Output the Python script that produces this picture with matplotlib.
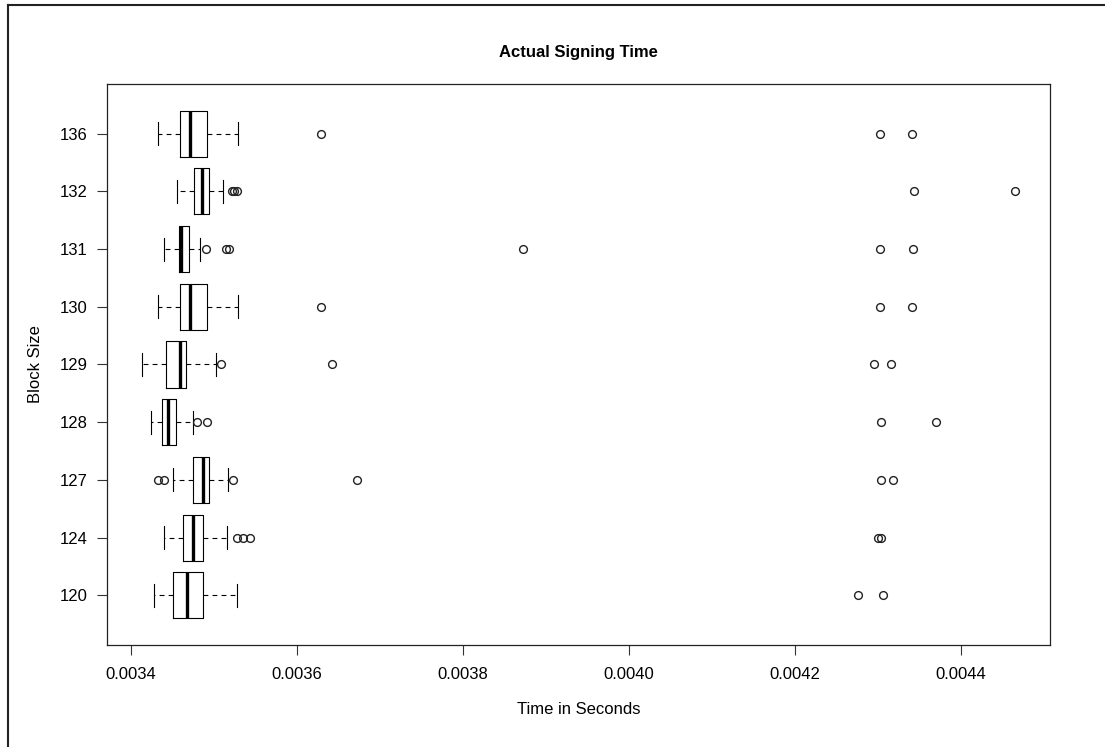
import matplotlib
matplotlib.use('Agg')
import matplotlib.pyplot as plt
from matplotlib.lines import Line2D

plt.rcParams['font.family'] = ['Liberation Sans', 'DejaVu Sans']
plt.rcParams['lines.scale_dashes'] = False

# ---- data (seconds) ----
categories = ["120", "124", "127", "128", "129", "130", "131", "132", "136"]
whislo = [0.003428, 0.003440, 0.003450, 0.003424, 0.003413, 0.003432, 0.003439, 0.003455, 0.003432]
q1     = [0.003451, 0.003462, 0.003475, 0.003437, 0.003442, 0.003459, 0.003458, 0.003476, 0.003459]
med    = [0.003467, 0.003475, 0.003486, 0.003445, 0.003459, 0.003471, 0.003460, 0.003485, 0.003471]
q3     = [0.003486, 0.003486, 0.003494, 0.003454, 0.003466, 0.003491, 0.003470, 0.003494, 0.003491]
whishi = [0.003527, 0.003515, 0.003517, 0.003475, 0.003502, 0.003529, 0.003483, 0.003511, 0.003529]
fliers = [
    [0.004276, 0.004306],
    [0.003527, 0.003535, 0.003543, 0.004300, 0.004304],
    [0.003432, 0.003440, 0.003523, 0.003672, 0.004304, 0.004318],
    [0.003479, 0.003492, 0.004304, 0.004370],
    [0.003508, 0.003642, 0.004295, 0.004315],
    [0.003629, 0.004302, 0.004341],
    [0.003490, 0.003514, 0.003518, 0.003872, 0.004302, 0.004342],
    [0.003521, 0.003524, 0.003528, 0.004343, 0.004465],
    [0.003629, 0.004302, 0.004341],
]
xticks = [0.0034, 0.0036, 0.0038, 0.0040, 0.0042, 0.0044]
xtick_labels = ["0.0034", "0.0036", "0.0038", "0.0040", "0.0042", "0.0044"]
title = "Actual Signing Time"
xlabel = "Time in Seconds"
ylabel = "Block Size"

W, H = 1105, 747
fig = plt.figure(figsize=(W / 100, H / 100), dpi=100)
ax = fig.add_axes([107 / W, 1 - 645 / H, (1050 - 107) / W, (645 - 84) / H])

stats = []
for i, c in enumerate(categories):
    stats.append(dict(label=c, q1=q1[i], med=med[i], q3=q3[i],
                      whislo=whislo[i], whishi=whishi[i], fliers=fliers[i]))

positions = list(range(1, len(categories) + 1))
ax.bxp(stats, positions=positions, orientation='horizontal', widths=0.8,
       capwidths=0.4, showfliers=True, manage_ticks=False,
       boxprops=dict(color='black', linewidth=0.8),
       whiskerprops=dict(color='black', linewidth=0.8, linestyle=(0, (3.5, 3))),
       capprops=dict(color='black', linewidth=0.8),
       medianprops=dict(color='black', linewidth=2.4),
       flierprops=dict(marker='o', markerfacecolor='none', markeredgecolor='#222222',
                       markersize=5.6, markeredgewidth=1.0, linestyle='none'))

allv = whislo + whishi + [v for f in fliers for v in f]
lo, hi = min(allv), max(allv)
span = hi - lo
ax.set_xlim(lo - 0.04 * span, hi + 0.04 * span)
ax.set_ylim(0.14, len(categories) + 0.86)

ax.set_xticks(xticks)
ax.set_xticklabels(xtick_labels)
ax.set_yticks(positions)
ax.set_yticklabels(categories)
ax.tick_params(axis='both', labelsize=12, length=7, width=0.8, color='#333333')
ax.tick_params(axis='x', pad=9)
ax.tick_params(axis='y', pad=7)
for s in ax.spines.values():
    s.set_linewidth(0.9)
    s.set_color('#222222')

ax.set_xlabel(xlabel, fontsize=12)
ax.set_ylabel(ylabel, fontsize=12)
ax.xaxis.set_label_coords(0.5, (645 - 702) / (645 - 84))
ax.yaxis.set_label_coords((43 - 107) / (1050 - 107), 0.5)

fig.text((107 + 1050) / 2 / W, 1 - 53 / H, title, ha='center', va='center',
         fontsize=12, fontweight='bold')

# outer frame (left and top edges visible in the reference)
fig.add_artist(Line2D([8 / W, 8 / W], [0, 1 - 5 / H], transform=fig.transFigure,
                      color='#222222', linewidth=1.5))
fig.add_artist(Line2D([8 / W, 1], [1 - 5 / H, 1 - 5 / H], transform=fig.transFigure,
                      color='#222222', linewidth=1.5))

fig.savefig('out.png', dpi=100)
